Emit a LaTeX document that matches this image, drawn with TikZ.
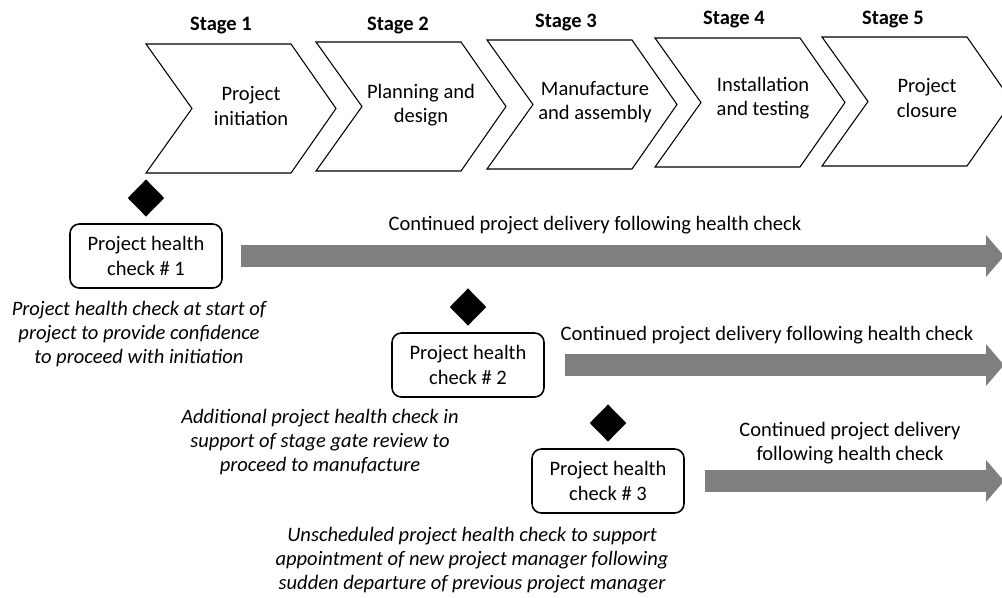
\documentclass[tikz,border=0pt]{standalone}
\usepackage{fontspec}
\setmainfont{Carlito}
\usetikzlibrary{shapes.geometric,arrows.meta}
\definecolor{flowgray}{HTML}{7F7F7F}

\begin{document}
\fontsize{15.4}{18.2}\selectfont
\begin{tikzpicture}[x=0.75pt,y=-0.75pt]

    \tikzset{stagestyle/.style={font=\bfseries,anchor=base}}
    \tikzset{chevstyle/.style={draw,line width=0.8pt}}
    \tikzset{textstyle/.style={align=center}}
    \tikzset{checkstyle/.style={draw,rounded corners=7pt,line width=1.2pt,minimum width=114pt,minimum height=48pt,align=center}}
    \tikzset{gatestyle/.style={diamond,fill=black,inner sep=0pt,minimum width=27.5pt,minimum height=28pt}}
    \tikzset{notestyle/.style={font=\itshape,align=center}}
    \tikzset{flowstyle/.style={draw=flowgray,line width=16.5pt,-{Triangle[width=31.5pt,length=13.5pt,line width=0pt]}}}

    \useasboundingbox (0,0) rectangle (1002,597);

    % Etapas del proyecto.
    \foreach \x/\y in {146/44, 316/42, 487/40, 655/38, 822/37}
        \draw[chevstyle] (\x,\y) -- ++(145,0) -- ++(45,64.5) -- ++(-45,64.5)
            -- ++(-145,0) -- ++(46,-64.5) -- cycle;

    \node[stagestyle] (st1) at (221,30) {Stage 1};
    \node[stagestyle] (st2) at (398,30) {Stage 2};
    \node[stagestyle] (st3) at (566,27) {Stage 3};
    \node[stagestyle] (st4) at (734,24) {Stage 4};
    \node[stagestyle] (st5) at (893,24) {Stage 5};

    \node[textstyle] (c1) at (251,106) {Project\\initiation};
    \node[textstyle] (c2) at (421,105) {Planning and\\design};
    \node[textstyle] (c3) at (595,102) {Manufacture\\and assembly};
    \node[textstyle] (c4) at (763,98) {Installation\\and testing};
    \node[textstyle] (c5) at (927,98) {Project\\closure};

    % Revisiones.
    \node[checkstyle] (b1) at (146,256) {Project health\\check \# 1};
    \node[checkstyle] (b2) at (468,365) {Project health\\check \# 2};
    \node[checkstyle] (b3) at (608,481) {Project health\\check \# 3};

    \node[gatestyle] (d1) at (146,198) {};
    \node[gatestyle] (d2) at (468,307) {};
    \node[gatestyle] (d3) at (608,423) {};

    \node[notestyle] (n1) at (139,334) {Project health check at start of\\project to provide confidence\\to proceed with initiation};
    \node[notestyle] (n2) at (320,442) {Additional project health check in\\support of stage gate review to\\proceed to manufacture};
    \node[notestyle] (n3) at (472,560) {Unscheduled project health check to support\\appointment of new project manager following\\sudden departure of previous project manager};

    % Flechas de continuidad.
    \coordinate (e1) at (1004,256);
    \coordinate (e2) at (1004,365);
    \coordinate (e3) at (1004,481);

    \draw[flowstyle] ([xshift=14pt]b1.east) -- (e1);
    \draw[flowstyle] ([xshift=15pt]b2.east) -- (e2);
    \draw[flowstyle] ([xshift=15pt]b3.east) -- (e3);

    \node[anchor=base] (l1) at (595,230) {Continued project delivery following health check};
    \node[anchor=base] (l2) at (767,340) {Continued project delivery following health check};
    \node[textstyle] (l3) at (850,443) {Continued project delivery\\following health check};

\end{tikzpicture}
\end{document}
